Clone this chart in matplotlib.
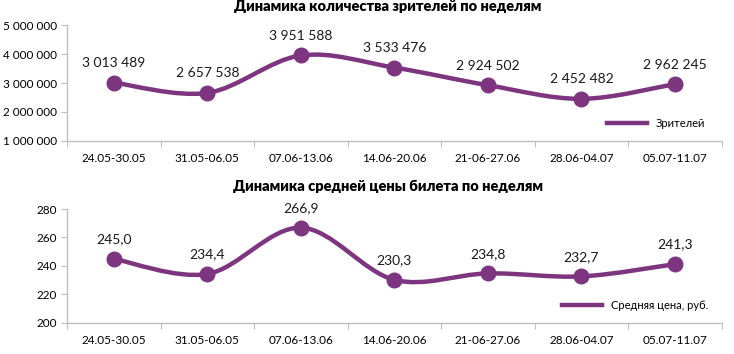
import matplotlib
matplotlib.use("Agg")
import matplotlib.pyplot as plt
from matplotlib.path import Path
from matplotlib.patches import PathPatch
from matplotlib.lines import Line2D
from matplotlib.ticker import FuncFormatter, FixedLocator

weeks = ["24.05-30.05", "31.05-06.05", "07.06-13.06", "14.06-20.06",
         "21-06-27.06", "28.06-04.07", "05.07-11.07"]
viewers = [3013489, 2657538, 3951588, 3533476, 2924502, 2452482, 2962245]
price = [245.0, 234.4, 266.9, 230.3, 234.8, 232.7, 241.3]

PURPLE = "#7D3580"
AXIS = "#BFBFBF"
plt.rcParams["font.family"] = ["Lato", "DejaVu Sans"]


def smooth_path(xs, ys):
    # Excel-style smoothed line: Catmull-Rom segments as cubic Beziers
    verts = [(xs[0], ys[0])]
    codes = [Path.MOVETO]
    n = len(xs)
    for i in range(n - 1):
        x0, y0 = (xs[i - 1], ys[i - 1]) if i > 0 else (xs[i], ys[i])
        x1, y1 = xs[i], ys[i]
        x2, y2 = xs[i + 1], ys[i + 1]
        x3, y3 = (xs[i + 2], ys[i + 2]) if i + 2 < n else (x2, y2)
        c1 = (x1 + (x2 - x0) / 6, y1 + (y2 - y0) / 6)
        c2 = (x2 - (x3 - x1) / 6, y2 - (y3 - y1) / 6)
        verts += [c1, c2, (x2, y2)]
        codes += [Path.CURVE4] * 3
    return Path(verts, codes)


def draw(ax, vals, ylim, yticks, fmt, lbl_fmt, lbl_off, title, tpad, legend, leg_x):
    xs = list(range(len(vals)))
    ax.add_patch(PathPatch(smooth_path(xs, vals), fill=False, ec=PURPLE,
                           lw=3.2, capstyle="round", zorder=2))
    ax.plot(xs, vals, "o", color=PURPLE, ms=10.5, zorder=3)
    for x, v in zip(xs, vals):
        ax.text(x, v + lbl_off, lbl_fmt(v), ha="center", va="bottom",
                fontsize=10, color="#1a1a1a")
    ax.set_xlim(-0.5, len(vals) - 0.5)
    ax.set_ylim(*ylim)
    ax.yaxis.set_major_locator(FixedLocator(yticks))
    ax.yaxis.set_major_formatter(FuncFormatter(fmt))
    ax.xaxis.set_major_locator(FixedLocator([i - 0.5 for i in range(len(vals) + 1)]))
    ax.xaxis.set_major_formatter(FuncFormatter(lambda v, p: ""))
    ax.xaxis.set_minor_locator(FixedLocator(xs))
    ax.set_xticklabels(weeks, minor=True)
    ax.tick_params(axis="x", which="minor", length=0, pad=9, labelsize=8.5)
    ax.tick_params(axis="x", which="major", length=4, color=AXIS, direction="out")
    ax.tick_params(axis="y", length=4, color=AXIS, labelsize=8.5, pad=3)
    for s in ("top", "right"):
        ax.spines[s].set_visible(False)
    for s in ("left", "bottom"):
        ax.spines[s].set_color(AXIS)
        ax.spines[s].set_linewidth(1)
    ax.set_title(title, fontsize=10.5, fontweight="heavy", pad=tpad, x=0.49)
    h = Line2D([], [], color=PURPLE, lw=3.2)
    ax.legend([h], [legend], loc="lower right", frameon=False, fontsize=8,
              handlelength=3.6, bbox_to_anchor=(leg_x, 0.02))


fig = plt.figure(figsize=(7.34, 3.54), dpi=100)
ax1 = fig.add_axes([0.0913, 0.602, 0.892, 0.327])
ax2 = fig.add_axes([0.0913, 0.0876, 0.892, 0.322])

sp = lambda v, p: f"{int(v):,}".replace(",", " ")
draw(ax1, viewers, (1000000, 5000000), [1e6, 2e6, 3e6, 4e6, 5e6], sp,
     lambda v: f"{v:,}".replace(",", " "), 470000,
     "Динамика количества зрителей по неделям", 10, "Зрителей", 0.99)
draw(ax2, price, (200, 280), [200, 220, 240, 260, 280], lambda v, p: f"{int(v)}",
     lambda v: f"{v:.1f}".replace(".", ","), 9.5,
     "Динамика средней цены билета по неделям", 13, "Средняя цена, руб.", 0.995)

fig.savefig("out.png", dpi=100)
